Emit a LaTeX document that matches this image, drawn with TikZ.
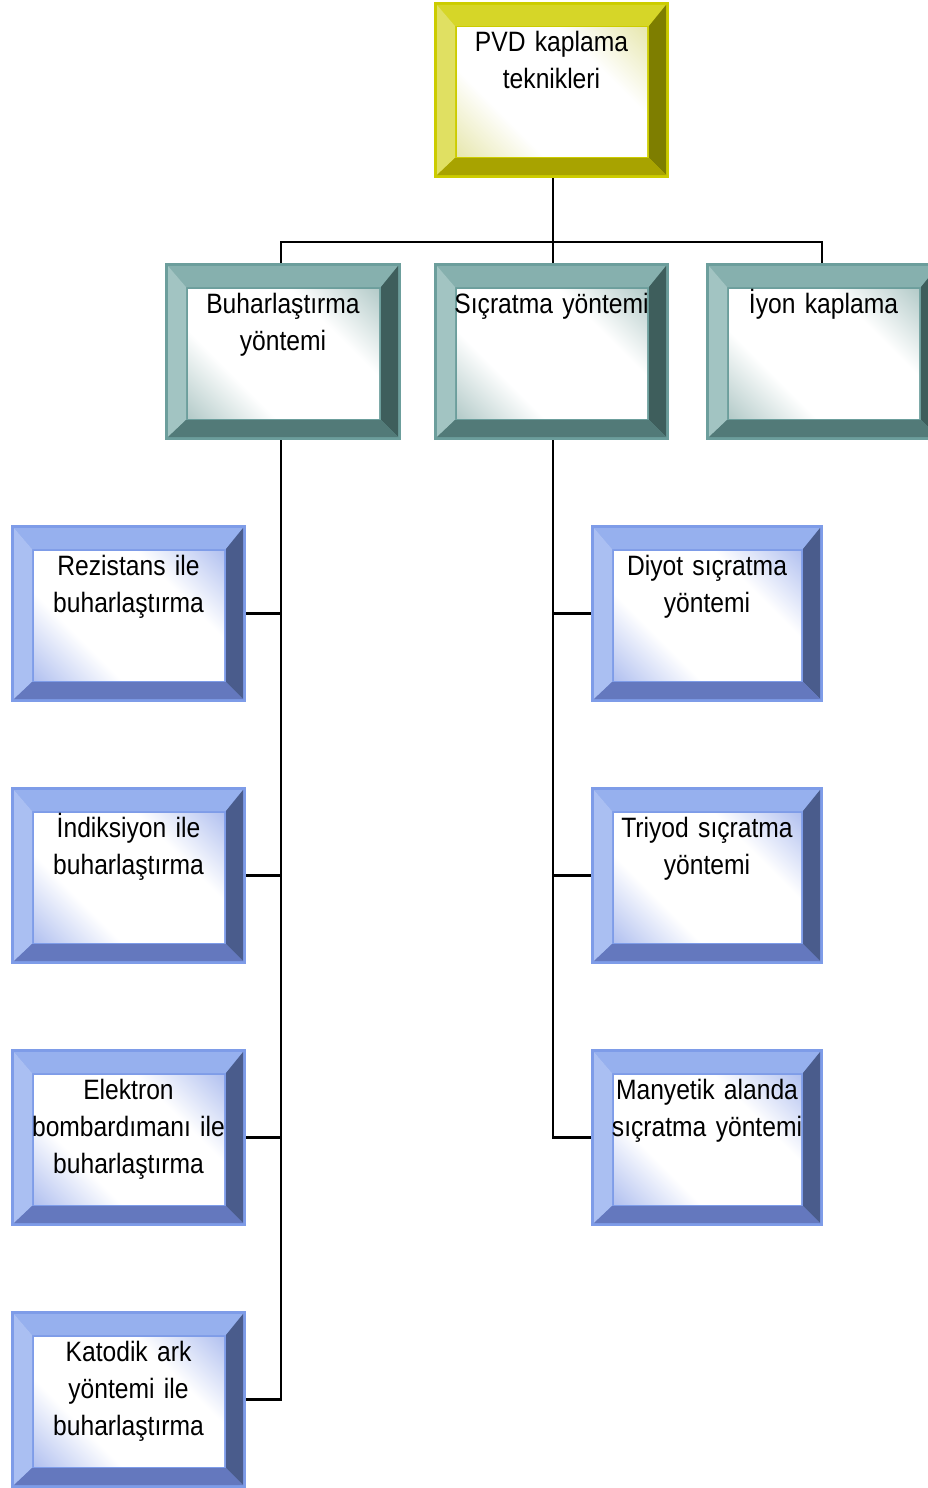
\documentclass[tikz,border=0pt]{standalone}
\usepackage{fontspec}
\newfontfamily\boxfont{Liberation Sans}[FakeStretch=0.88]
\usetikzlibrary{calc}
% palettes: O outer, T top, L left, R right, B bottom, C corner tint
\definecolor{yelO}{HTML}{CCCC00}
\definecolor{yelT}{HTML}{D6D628}
\definecolor{yelL}{HTML}{E0E062}
\definecolor{yelR}{HTML}{7E7E00}
\definecolor{yelB}{HTML}{A8A300}
\definecolor{yelC}{HTML}{E4E4A4}
\definecolor{teaO}{HTML}{6C9E9C}
\definecolor{teaT}{HTML}{86B0AE}
\definecolor{teaL}{HTML}{A2C4C2}
\definecolor{teaR}{HTML}{3E5E5C}
\definecolor{teaB}{HTML}{527A78}
\definecolor{teaC}{HTML}{AAC4C2}
\definecolor{bluO}{HTML}{7E9CE8}
\definecolor{bluT}{HTML}{96B0EE}
\definecolor{bluL}{HTML}{AABFF2}
\definecolor{bluR}{HTML}{4A5C8C}
\definecolor{bluB}{HTML}{6478BE}
\definecolor{bluC}{HTML}{A8B9EE}
\pgfdeclareverticalshading{yelshade}{100bp}{color(0bp)=(yelC); color(12bp)=(yelC); color(34bp)=(white); color(66bp)=(white); color(88bp)=(yelC); color(100bp)=(yelC)}
\pgfdeclareverticalshading{teashade}{100bp}{color(0bp)=(teaC); color(12bp)=(teaC); color(34bp)=(white); color(66bp)=(white); color(88bp)=(teaC); color(100bp)=(teaC)}
\pgfdeclareverticalshading{blushade}{100bp}{color(0bp)=(bluC); color(12bp)=(bluC); color(34bp)=(white); color(66bp)=(white); color(88bp)=(bluC); color(100bp)=(bluC)}
\newcommand\bevelparts[1]{%
  \fill[#1T] let \p1=(path picture bounding box.south west), \p2=(path picture bounding box.north east) in
    (\x1+3,\y2-3) -- (\x2-3,\y2-3) -- (\x2-20,\y2-24) -- (\x1+21,\y2-24) -- cycle;
  \fill[#1L] let \p1=(path picture bounding box.south west), \p2=(path picture bounding box.north east) in
    (\x1+3,\y2-3) -- (\x1+21,\y2-24) -- (\x1+21,\y1+20) -- (\x1+3,\y1+3) -- cycle;
  \fill[#1R] let \p1=(path picture bounding box.south west), \p2=(path picture bounding box.north east) in
    (\x2-3,\y2-3) -- (\x2-3,\y1+3) -- (\x2-20,\y1+20) -- (\x2-20,\y2-24) -- cycle;
  \fill[#1B] let \p1=(path picture bounding box.south west), \p2=(path picture bounding box.north east) in
    (\x1+3,\y1+3) -- (\x2-3,\y1+3) -- (\x2-20,\y1+20) -- (\x1+21,\y1+20) -- cycle;
  \shade[shading=#1shade, shading angle=-45] let \p1=(path picture bounding box.south west), \p2=(path picture bounding box.north east) in
    (\x1+23,\y1+22) rectangle (\x2-22,\y2-26);
}
\tikzset{
  bevbox/.style={rectangle, inner sep=0pt, outer sep=0pt, fill=#1O,
    font=\boxfont\fontsize{28}{37}\selectfont, align=center,
    text height=50pt, text depth=127pt, path picture={\bevelparts{#1}}},
  conn/.style={draw=black, line width=2.8pt}
}
\begin{document}
\begin{tikzpicture}[x=1pt,y=1pt]
\useasboundingbox (0,0) rectangle (928,-1488);
\fill[white] (0,0) rectangle (928,-1488);
% top
\node[bevbox=yel, text width=235pt, text depth=126pt, anchor=north] (top) at (551.5,-2) {PVD kaplama\\teknikleri};
% second level
\node[bevbox=tea, text width=236pt, anchor=north] (buh) at (283,-263) {Buharlaştırma\\yöntemi};
\node[bevbox=tea, text width=235pt, anchor=north] (sic) at (551.5,-263) {Sıçratma yöntemi};
\node[bevbox=tea, text width=235pt, anchor=north] (iyon) at (823.5,-263) {İyon kaplama};
% left column
\node[bevbox=blu, text width=235pt, anchor=north] (rez) at (128.5,-525) {Rezistans ile\\buharlaştırma};
\node[bevbox=blu, text width=235pt, anchor=north] (ind) at (128.5,-787) {İndiksiyon ile\\buharlaştırma};
\node[bevbox=blu, text width=235pt, anchor=north] (ele) at (128.5,-1049) {Elektron\\bombardımanı ile\\buharlaştırma};
\node[bevbox=blu, text width=235pt, anchor=north] (kat) at (128.5,-1311) {Katodik ark\\yöntemi ile\\buharlaştırma};
% right column
\node[bevbox=blu, text width=232pt, anchor=north] (diy) at (707,-525) {Diyot sıçratma\\yöntemi};
\node[bevbox=blu, text width=232pt, anchor=north] (tri) at (707,-787) {Triyod sıçratma\\yöntemi};
\node[bevbox=blu, text width=232pt, anchor=north] (man) at (707,-1049) {Manyetik alanda\\sıçratma yöntemi};
% connectors
\coordinate (hub) at (553,-242);
\coordinate (ltrunk) at (281,-440);
\coordinate (rtrunk) at (553,-440);
\draw[conn] (top.south -| hub) -- (hub);
\draw[conn] (hub) -- (sic.north -| hub);
\draw[conn] (buh.north -| ltrunk) |- (hub) -| (iyon.north -| 822,0);
\draw[conn] (ltrunk) |- (rez.east);
\draw[conn] (ltrunk) |- (ind.east);
\draw[conn] (ltrunk) |- (ele.east);
\draw[conn] (ltrunk) |- (kat.east);
\draw[conn] (rtrunk) |- (diy.west);
\draw[conn] (rtrunk) |- (tri.west);
\draw[conn] (rtrunk) |- (man.west);
\end{tikzpicture}
\end{document}
